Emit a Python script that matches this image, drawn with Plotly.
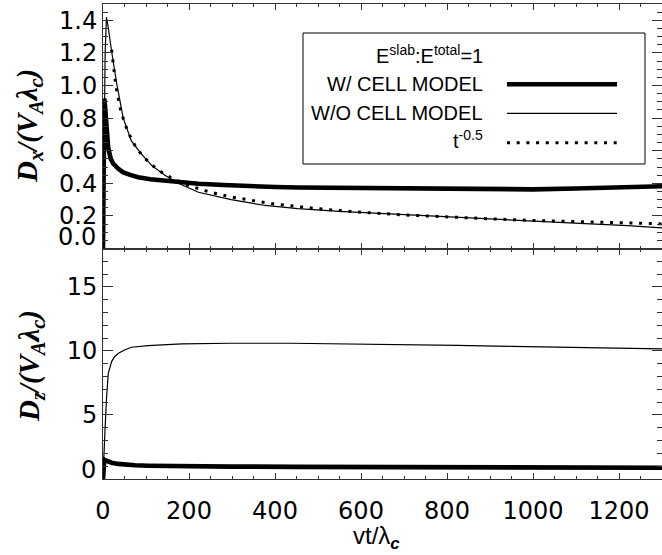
import plotly.graph_objects as go

# ---------------- data ----------------
# Top panel: D_x/(V_A lambda_c)
t_dx_with = [0, 1, 3, 5, 8, 12, 18, 24, 35, 47, 65, 82, 110, 144, 180, 222, 280, 338,
             400, 453, 550, 668, 780, 901, 1000, 1100, 1200, 1300]
dx_with = [0, 0.6, 0.92, 0.86, 0.74, 0.62, 0.55, 0.52, 0.49, 0.467, 0.45, 0.437, 0.425,
           0.417, 0.405, 0.397, 0.39, 0.382, 0.377, 0.374, 0.372, 0.37, 0.366, 0.362,
           0.363, 0.368, 0.375, 0.382]

t_dx_without = [0, 2, 5, 8, 12, 20, 32, 47, 66, 89, 113, 144, 175, 222, 298, 377, 453,
                550, 668, 780, 901, 1020, 1133, 1220, 1300]
dx_without = [0, 0.6, 1.2, 1.42, 1.36, 1.21, 1.01, 0.80, 0.66, 0.58, 0.51, 0.45, 0.40,
              0.345, 0.30, 0.264, 0.245, 0.228, 0.212, 0.195, 0.178, 0.165, 0.151, 0.140,
              0.127]

t_power = [20, 25, 30, 40, 50, 60, 75, 90, 110, 130, 160, 200, 250, 300, 400, 500, 600,
           700, 800, 900, 1000, 1100, 1200, 1300]
power_law = [1.219, 1.09, 0.995, 0.862, 0.771, 0.704, 0.629, 0.574, 0.520, 0.478, 0.431,
             0.385, 0.345, 0.315, 0.2725, 0.244, 0.2225, 0.206, 0.193, 0.182, 0.172,
             0.164, 0.157, 0.151]

# Bottom panel: D_z/(V_A lambda_c)
t_dz_without = [0, 2, 4.6, 8.4, 12.3, 20, 27, 36, 50, 66, 105, 183, 299, 436, 550, 668,
                822, 950, 1055, 1180, 1300]
dz_without = [0, 2.0, 3.8, 6.4, 8.26, 9.17, 9.55, 9.82, 10.08, 10.29, 10.42, 10.55, 10.6,
              10.6, 10.57, 10.5, 10.44, 10.36, 10.29, 10.22, 10.16]

t_dz_with = [0, 1, 3, 6, 10, 20, 35, 51, 75, 105, 160, 221, 300, 452, 550, 700, 800,
             1000, 1150, 1300]
dz_with = [0, 1.0, 1.5, 1.45, 1.38, 1.27, 1.18, 1.12, 1.07, 1.04, 1.01, 0.99, 0.97, 0.95,
           0.94, 0.93, 0.92, 0.90, 0.89, 0.88]

legend_labels = ["W/ CELL MODEL", "W/O CELL MODEL", "t<sup>-0.5</sup>"]
legend_title = "E<sup>slab</sup>:E<sup>total</sup>=1"

# ---------------- figure ----------------
W, H = 662, 555
ML, MR, MT, MB = 103, 0, 4, 76
PW, PH = W - ML - MR, H - MT - MB


def px(xp):
    return (xp - ML) / PW


def py(yp):
    return (H - MB - yp) / PH


split = py(248.5)
axis_color = "#333333"
tick_font = dict(family="DejaVu Sans", size=24, color="black")
THICK, THIN = 4.6, 1.2
DOT = "3px,6.7px"

fig = go.Figure()
# top panel
fig.add_trace(go.Scatter(x=t_power, y=power_law, mode="lines",
                         line=dict(color="black", width=3, dash=DOT),
                         xaxis="x2", yaxis="y2"))
fig.add_trace(go.Scatter(x=t_dx_without, y=dx_without, mode="lines",
                         line=dict(color="black", width=THIN),
                         xaxis="x2", yaxis="y2"))
fig.add_trace(go.Scatter(x=t_dx_with, y=dx_with, mode="lines",
                         line=dict(color="black", width=THICK),
                         xaxis="x2", yaxis="y2"))
# bottom panel
fig.add_trace(go.Scatter(x=t_dz_without, y=dz_without, mode="lines",
                         line=dict(color="black", width=THIN),
                         xaxis="x", yaxis="y"))
fig.add_trace(go.Scatter(x=t_dz_with, y=dz_with, mode="lines",
                         line=dict(color="black", width=THICK),
                         xaxis="x", yaxis="y"))

common_x = dict(range=[0, 1300], tickmode="linear", tick0=0, dtick=200,
                ticks="inside", ticklen=6, tickwidth=1, tickcolor=axis_color,
                minor=dict(tickmode="linear", tick0=0, dtick=50, ticks="inside",
                           ticklen=3, tickwidth=1, tickcolor=axis_color),
                showline=True, linecolor=axis_color, linewidth=1, mirror="ticks",
                showgrid=False, zeroline=False, tickfont=tick_font)
common_y = dict(ticks="inside", ticklen=10, tickwidth=1, tickcolor=axis_color,
                showline=True, linecolor=axis_color, linewidth=1, mirror="ticks",
                showgrid=False, zeroline=False, tickfont=tick_font)

fig.update_layout(
    width=W, height=H,
    margin=dict(l=ML, r=MR, t=MT, b=MB),
    paper_bgcolor="white", plot_bgcolor="white",
    showlegend=False,
    xaxis=dict(domain=[0, 1], anchor="y", ticklabelstandoff=10, **common_x),
    xaxis2=dict(domain=[0, 1], anchor="y2", matches="x", showticklabels=False, **common_x),
    yaxis=dict(domain=[0, split], range=[0, 18], tickmode="linear", tick0=0, dtick=5,
               labelalias={"0": " "},
               minor=dict(tickmode="linear", tick0=0, dtick=1, ticks="inside",
                          ticklen=5, tickwidth=1, tickcolor=axis_color),
               **common_y),
    yaxis2=dict(domain=[split, 1], range=[0, 1.5], tickmode="linear", tick0=0, dtick=0.2,
                tickformat=".1f", labelalias={"0.0": " "},
                minor=dict(tickmode="linear", tick0=0, dtick=0.05, ticks="inside",
                           ticklen=5, tickwidth=1, tickcolor=axis_color),
                **common_y),
)

annotations = []
# zero labels (shifted up as in the reference)
annotations.append(dict(text="0.0", x=px(98), y=py(237), xref="paper", yref="paper",
                        xanchor="right", yanchor="middle", showarrow=False, font=tick_font))
annotations.append(dict(text="0", x=px(98), y=py(470), xref="paper", yref="paper",
                        xanchor="right", yanchor="middle", showarrow=False, font=tick_font))

# axis titles
ytitle_font = dict(family="Liberation Serif", size=29, color="black")
annotations.append(dict(text="<b><i>D<sub>x</sub>/(V<sub>A</sub>λ<sub>c</sub>)</i></b>",
                        x=px(29), y=py(126), xref="paper", yref="paper",
                        xanchor="center", yanchor="middle", textangle=-90,
                        showarrow=False, font=ytitle_font))
annotations.append(dict(text="<b><i>D<sub>z</sub>/(V<sub>A</sub>λ<sub>c</sub>)</i></b>",
                        x=px(31), y=py(366), xref="paper", yref="paper",
                        xanchor="center", yanchor="middle", textangle=-90,
                        showarrow=False, font=ytitle_font))
annotations.append(dict(text="vt/λ<sub><b><i>c</i></b></sub>",
                        x=px(376), y=py(537), xref="paper", yref="paper",
                        xanchor="center", yanchor="middle", showarrow=False,
                        font=dict(family="Liberation Sans", size=24, color="black")))

# legend
leg_font = dict(family="Liberation Sans", size=20, color="black")
leg_text_x = px(485)
row_y = [55, 84, 113, 139]
annotations.append(dict(text=legend_title, x=leg_text_x, y=py(row_y[0]), xref="paper",
                        yref="paper", xanchor="right", yanchor="middle",
                        showarrow=False, font=leg_font))
for lbl, yy in zip(legend_labels, row_y[1:]):
    annotations.append(dict(text=lbl, x=leg_text_x, y=py(yy), xref="paper", yref="paper",
                            xanchor="right", yanchor="middle", showarrow=False,
                            font=leg_font))

shapes = [dict(type="rect", xref="paper", yref="paper",
               x0=px(303), x1=px(645), y0=py(164), y1=py(33),
               line=dict(color="black", width=1), fillcolor="rgba(0,0,0,0)")]
line_styles = [dict(color="black", width=THICK), dict(color="black", width=THIN),
               dict(color="black", width=3, dash=DOT)]
line_y = [84.3, 113.3, 142.7]
for st, yy in zip(line_styles, line_y):
    shapes.append(dict(type="line", xref="paper", yref="paper",
                       x0=px(507), x1=px(617), y0=py(yy), y1=py(yy), line=st))

fig.update_layout(annotations=annotations, shapes=shapes)
fig.write_html(
    "out.html",
    config={"displayModeBar": False},
    post_script="document.body.style.margin='0';document.body.style.overflow='hidden';",
)
